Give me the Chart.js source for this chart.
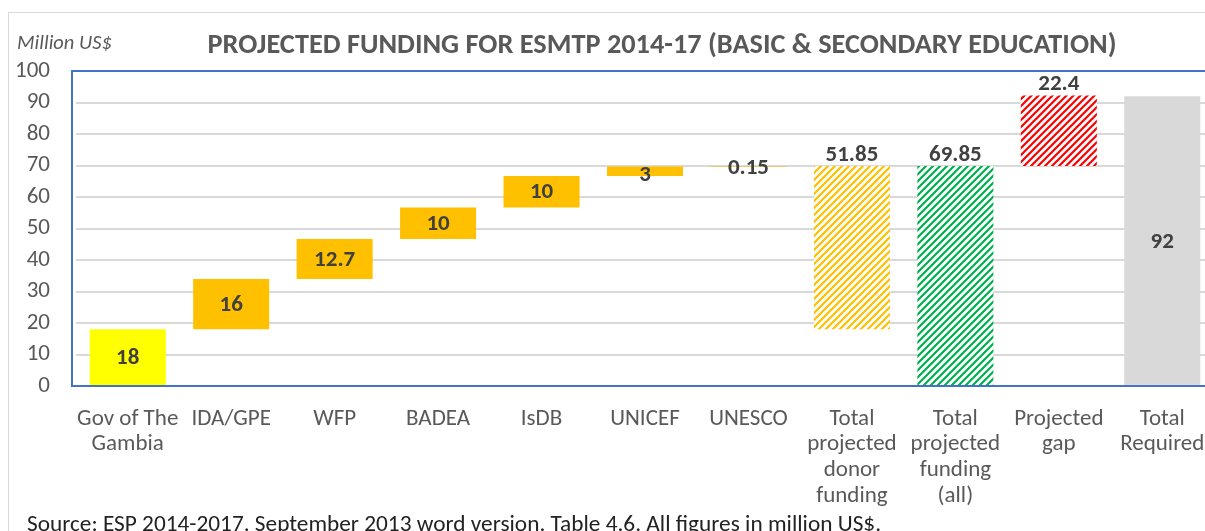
<!DOCTYPE html>
<html>
<head>
<meta charset="utf-8">
<script src="https://cdn.jsdelivr.net/npm/chart.js@4.4.1/dist/chart.umd.min.js"></script>
<style>
  html, body { margin: 0; padding: 0; width: 1205px; height: 531px; overflow: hidden; background: #fff; }
  body { position: relative; font-family: Carlito, Lato, sans-serif; }
  #frame { position: absolute; left: 8px; top: 12px; width: 1300px; height: 600px; border: 1.5px solid #D9D9D9; box-sizing: border-box; }
  #unit { position: absolute; left: 17px; top: 29px; font-size: 20.5px; line-height: 26px; font-style: italic; color: #595959; white-space: nowrap; }
  #title { position: absolute; left: 0; width: 1324px; top: 27px; line-height: 34px; text-align: center; font-size: 28.3px; font-weight: bold; color: #595959; white-space: nowrap; }
  #source { position: absolute; left: 27px; top: 509px; font-size: 23.3px; line-height: 28px; color: #222; white-space: nowrap; }
  #c { position: absolute; left: 0; top: 0; }
</style>
</head>
<body>
<div id="frame"></div>
<canvas id="c" width="1230" height="531"></canvas>
<div id="unit">Million US$</div>
<div id="title">PROJECTED FUNDING FOR ESMTP 2014-17 (BASIC &amp; SECONDARY EDUCATION)</div>
<div id="source">Source: ESP 2014-2017. September 2013 word version. Table 4.6. All figures in million US$.</div>
<script>
// ---- data ----
const categories = [
  ["Gov of The", "Gambia"], "IDA/GPE", "WFP", "BADEA", "IsDB", "UNICEF", "UNESCO",
  ["Total", "projected", "donor", "funding"], ["Total", "projected", "funding", "(all)"],
  ["Projected", "gap"], ["Total", "Required"]
];
const amounts = [18, 16, 12.7, 10, 10, 3, 0.15, 51.85, 69.85, 22.4, 92];
const bases   = [0, 18, 34, 46.7, 56.7, 66.7, 69.7, 18, 0, 69.85, 0];
const yTicks  = [0, 10, 20, 30, 40, 50, 60, 70, 80, 90, 100];

// ---- styling helpers ----
function hatch(color) {
  const s = 7;
  const p = document.createElement('canvas');
  p.width = s; p.height = s;
  const g = p.getContext('2d');
  g.fillStyle = '#ffffff';
  g.fillRect(0, 0, s, s);
  g.strokeStyle = color;
  g.lineWidth = 2.2;
  g.beginPath();
  g.moveTo(-1, s + 1); g.lineTo(s + 1, -1);
  g.moveTo(-1, 1); g.lineTo(1, -1);
  g.moveTo(s - 1, s + 1); g.lineTo(s + 1, s - 1);
  g.stroke();
  return document.getElementById('c').getContext('2d').createPattern(p, 'repeat');
}
const colors = [
  '#FFFF00', '#FFC000', '#FFC000', '#FFC000', '#FFC000', '#FFC000', '#FFC000',
  hatch('#FFC000'), hatch('#00B050'), hatch('#FF0000'), '#D9D9D9'
];
const labelAbove = [false, false, false, false, false, false, false, true, true, true, false];
const labelNudge = [1, 1, 1, 1, 1, 4, 2, 0, 0, 0, 1];

const floating = amounts.map((a, i) => [bases[i], +(bases[i] + a).toFixed(2)]);

const FONT = 'Carlito, Lato, sans-serif';

const labelPlugin = {
  id: 'vlabels',
  afterDatasetsDraw(chart) {
    const ctx = chart.ctx;
    const meta = chart.getDatasetMeta(0);
    ctx.save();
    ctx.font = 'bold 23px ' + FONT;
    ctx.fillStyle = '#404040';
    ctx.textAlign = 'center';
    ctx.textBaseline = 'middle';
    meta.data.forEach((bar, i) => {
      const ys = chart.scales.y;
      const top = ys.getPixelForValue(floating[i][1]);
      const bot = ys.getPixelForValue(floating[i][0]);
      const y = labelAbove[i] ? top - 11 : (top + bot) / 2 + labelNudge[i];
      ctx.fillText(String(amounts[i]), bar.x, y);
    });
    ctx.restore();
  }
};

const borderPlugin = {
  id: 'plotBorder',
  afterDraw(chart) {
    const a = chart.chartArea;
    const ctx = chart.ctx;
    ctx.save();
    ctx.strokeStyle = '#4472C4';
    ctx.lineWidth = 2;
    ctx.strokeRect(72, a.top, a.right - 72, a.bottom - a.top);
    ctx.restore();
  }
};

new Chart(document.getElementById('c'), {
  type: 'bar',
  data: {
    labels: categories,
    datasets: [{
      data: floating,
      backgroundColor: colors,
      borderWidth: 0,
      categoryPercentage: 1,
      barPercentage: 0.735
    }]
  },
  options: {
    responsive: false,
    animation: false,
    devicePixelRatio: 1,
    layout: { padding: { top: 71, right: 16, bottom: 0, left: 0 } },
    plugins: { legend: { display: false }, tooltip: { enabled: false } },
    scales: {
      x: {
        grid: { display: false, drawTicks: false },
        border: { display: false },
        ticks: {
          color: '#595959', font: { family: FONT, size: 23, lineHeight: 1.12 },
          padding: 20, maxRotation: 0, autoSkip: false
        },
        afterFit(s) { s.height = 145; }
      },
      y: {
        min: 0, max: 100,
        afterBuildTicks(s) { s.ticks = yTicks.map(v => ({ value: v })); },
        grid: { color: '#D9D9D9', lineWidth: 2, drawTicks: false },
        border: { display: false },
        ticks: { color: '#595959', font: { family: FONT, size: 23 }, padding: 26 },
        afterFit(s) { s.width = 76; }
      }
    }
  },
  plugins: [labelPlugin, borderPlugin]
});
</script>
</body>
</html>
